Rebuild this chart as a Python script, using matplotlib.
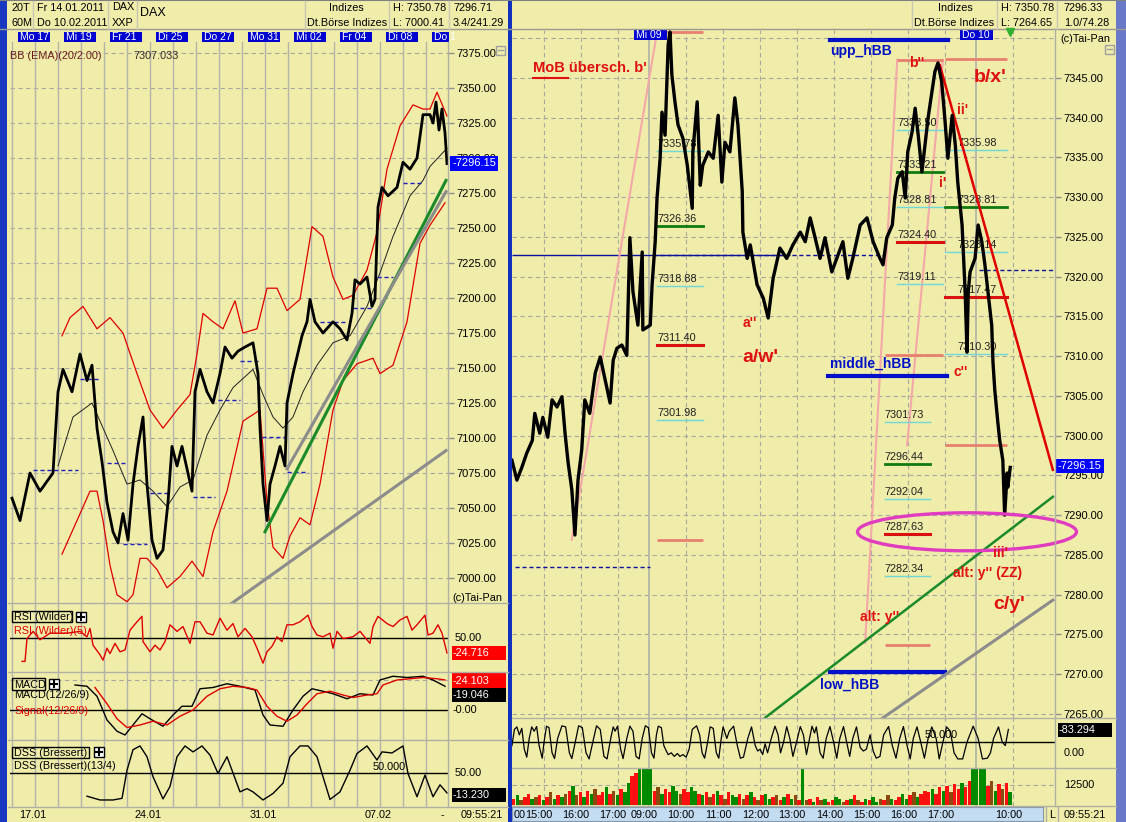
import numpy as np
import matplotlib.pyplot as plt
from matplotlib.patches import Rectangle, Ellipse

plt.rcParams['font.family'] = ['Liberation Sans', 'DejaVu Sans']

# ---------------- left chart: DAX 60 min (time unit: 23 per trading day) ----------------
lt = [12, 20, 30, 40, 53, 58, 63, 72, 80, 87, 92, 97, 102, 107, 113, 118, 123, 128, 133, 138,
      143, 147, 152, 157, 163, 168, 172, 177, 182, 187, 192, 195, 200, 207, 213, 220, 225, 232, 238, 245,
      253, 258, 260, 263, 267, 270, 275, 280, 285, 287, 293, 302, 307, 310, 315, 323, 333, 340, 347, 352,
      355, 360, 367, 372, 375, 378, 382, 388, 397, 403, 410, 417, 423, 430, 433, 436, 439, 442, 445, 447]
lp = [7057, 7041, 7075, 7062, 7075, 7133, 7149, 7133, 7160, 7141, 7152, 7107, 7083, 7054, 7033, 7025, 7046, 7027, 7067, 7094,
      7115, 7067, 7027, 7014, 7020, 7054, 7094, 7080, 7094, 7078, 7062, 7133, 7149, 7133, 7125, 7146, 7165, 7157, 7162, 7165,
      7168, 7146, 7107, 7067, 7041, 7067, 7080, 7094, 7080, 7125, 7146, 7173, 7183, 7199, 7183, 7175, 7183, 7178, 7170, 7189,
      7213, 7210, 7215, 7194, 7199, 7265, 7279, 7273, 7279, 7297, 7292, 7300, 7331, 7331, 7325, 7340, 7320, 7335, 7318, 7296]

bbu_t = [62, 70, 83, 97, 110, 123, 137, 150, 163, 177, 190, 197, 203, 213, 223, 235, 243, 257, 267, 277,
         287, 300, 312, 323, 333, 343, 353, 367, 377, 387, 400, 413, 423, 430, 437, 447]
bbu = [7173, 7186, 7194, 7178, 7186, 7175, 7146, 7120, 7107, 7120, 7131, 7160, 7189, 7183, 7178, 7198, 7175, 7178, 7207, 7207,
       7191, 7199, 7251, 7244, 7215, 7199, 7202, 7220, 7247, 7292, 7323, 7338, 7335, 7335, 7347, 7330]
bbl_t = [62, 77, 90, 97, 103, 110, 117, 127, 133, 140, 147, 157, 167, 180, 192, 203, 213, 227, 243, 260,
         267, 273, 283, 290, 300, 310, 320, 333, 343, 357, 373, 380, 393, 407, 420, 430, 445]
bbl = [7017, 7041, 7062, 7062, 7041, 7009, 6988, 6983, 6988, 7014, 7014, 7006, 6993, 7001, 7012, 7001, 7033, 7062, 7112, 7120,
       7054, 7022, 7014, 7030, 7043, 7038, 7067, 7120, 7141, 7153, 7157, 7146, 7152, 7183, 7239, 7252, 7268]
bbm_t = [58, 73, 92, 100, 113, 127, 140, 153, 167, 180, 193, 207, 220, 233, 253, 263, 273, 283, 293, 303,
         317, 333, 350, 367, 380, 393, 410, 423, 430, 447]
bbm = [7080, 7115, 7125, 7112, 7091, 7067, 7070, 7062, 7051, 7065, 7070, 7102, 7120, 7136, 7149, 7131, 7115, 7107, 7115, 7133,
       7152, 7168, 7173, 7194, 7218, 7244, 7273, 7284, 7294, 7307]

# previous-session marks (start, end, price)
prev_x0 = [33, 80, 107, 123, 150, 193, 218, 240, 262, 287, 320, 353, 377, 403]
prev_x1 = [78, 100, 125, 147, 170, 215, 240, 258, 285, 308, 345, 373, 393, 423]
prev_p = [7077, 7142, 7082, 7024, 7061, 7058, 7127, 7155, 7101, 7076, 7183, 7193, 7215, 7282]

# trend lines (t0, p0, t1, p1)
left_green = [265, 7033, 446, 7284]
left_gray1 = [287, 7078, 446, 7276]
left_gray2 = [230, 6981, 446, 7091]

rsi_t = [22, 25, 27, 33, 40, 50, 67, 80, 87, 90, 93, 100, 103, 107, 110, 115, 120, 125, 130, 137,
         142, 143, 150, 155, 160, 165, 170, 177, 183, 190, 195, 200, 207, 213, 220, 227, 233, 238, 245, 252,
         257, 263, 267, 272, 277, 282, 287, 293, 300, 308, 312, 317, 323, 330, 333, 337, 343, 353, 360, 370,
         373, 378, 387, 393, 400, 407, 412, 417, 425, 428, 433, 438, 442, 447]
rsi_v = [11, 11, 49, 61, 47, 58, 58, 61, 52, 66, 38, 22, 13, 33, 24, 41, 27, 30, 63, 77,
         86, 44, 27, 38, 30, 44, 72, 61, 69, 41, 77, 77, 58, 55, 83, 63, 74, 52, 66, 52,
         33, 8, 27, 36, 52, 44, 72, 72, 77, 88, 69, 55, 52, 58, 33, 61, 49, 52, 61, 41,
         69, 86, 74, 69, 80, 86, 63, 72, 88, 55, 58, 72, 58, 25]

macd_t = [75, 87, 97, 107, 117, 125, 133, 142, 150, 163, 173, 182, 192, 200, 213, 227, 240, 255, 263, 270,
          283, 293, 303, 312, 323, 333, 347, 360, 373, 380, 393, 407, 423, 433, 445]
macd_v = [20, 19, 11, -8, -17, -20, -12, -3, -7, -13, -4, 3, 3, 17, 18, 21, 19, 16, -4, -12,
          -13, 0, 11, 17, 15, 13, 9, 13, 12, 24, 27, 26, 27, 24, 19]
sig_t = [95, 107, 117, 127, 140, 153, 167, 180, 193, 207, 220, 233, 247, 257, 267, 277, 287, 297, 307, 317,
         330, 343, 353, 367, 377, 383, 397, 410, 423, 437, 445]
sig_v = [18, 5, -7, -14, -12, -9, -12, -5, 0, 11, 17, 19, 18, 16, 3, -5, -9, -4, 5, 13,
         15, 12, 10, 12, 13, 20, 24, 25, 26, 25, 24]

dss_t = [87, 100, 113, 122, 127, 133, 140, 147, 153, 163, 170, 177, 185, 193, 202, 210, 218, 227, 233, 240,
         247, 253, 263, 273, 283, 290, 300, 308, 317, 322, 330, 340, 350, 357, 367, 377, 382, 392, 403, 408,
         417, 425, 433, 440, 447]
dss_v = [7, 0, 0, 3, 55, 93, 100, 80, 43, 2, 25, 80, 100, 89, 100, 83, 49, 80, 50, 15,
         21, 15, 0, 12, 31, 80, 100, 100, 80, 49, 1, 15, 55, 86, 100, 74, 89, 87, 100, 49,
         6, 46, 6, 28, 13]

left_days = ['Mo 17', 'Mi 19', 'Fr 21', 'Di 25', 'Do 27', 'Mo 31', 'Mi 02', 'Fr 04', 'Di 08', 'Do 1']
left_dates = ['17.01', '24.01', '31.01', '07.02']

# ---------------- right chart: DAX intraday (minutes of session, 0 = 09.02 09:00) ----------------
rm = [-222, -214, -206, -198, -189, -185, -177, -172, -164, -157,
      -149, -141, -136, -131, -125, -120, -115, -109, -104, -96,
      -87, -79, -71, -63, -58, -52, -44, -36, -31, -26,
      -18, -11, -10, 2, 5, 10, 13, 18, 21, 26,
      31, 34, 37, 42, 47, 55, 62, 70, 71, 78,
      83, 87, 96, 104, 112, 118, 123, 131, 139, 144,
      151, 152, 159, 164, 175, 185, 193, 201, 212, 223,
      233, 245, 253, 261, 269, 277, 285, 296, 304, 314,
      322, 330, 342, 353, 363, 374, 379, 385, 394, 398,
      403, 410, 415, 419, 426, 431, 436, 442, 447, 452,
      458, 463, 468, 474, 479, 484, 491, 496, 500, 507,
      512, 515, 517, 520, 528, 533, 539, 544, 549, 555,
      557, 560, 565, 568, 573, 576, 580, 581, 585]
rp = [7296.9, 7294.4, 7296.0, 7297.8, 7299.4, 7302.8, 7300.3, 7302.3, 7299.8, 7304.5,
      7303.6, 7304.9, 7300.3, 7296.6, 7293.2, 7287.5, 7294.4, 7298.2, 7304.5, 7302.8,
      7307.9, 7309.9, 7307.0, 7304.1, 7309.5, 7311.0, 7311.4, 7310.1, 7324.9, 7318.1,
      7313.9, 7323.1, 7313.3, 7313.9, 7319.0, 7324.4, 7329.9, 7334.9, 7340.7, 7337.8,
      7349.2, 7350.8, 7345.4, 7342.0, 7339.1, 7337.4, 7334.0, 7328.6, 7335.7, 7342.0,
      7331.5, 7334.0, 7335.7, 7334.9, 7340.3, 7331.9, 7336.9, 7335.7, 7342.5, 7339.1,
      7330.7, 7325.6, 7322.3, 7324.0, 7319.0, 7317.3, 7314.8, 7319.8, 7323.6, 7322.3,
      7324.0, 7325.6, 7324.4, 7327.4, 7324.9, 7322.3, 7324.9, 7320.6, 7322.3, 7324.4,
      7319.8, 7322.3, 7326.5, 7327.4, 7324.4, 7322.3, 7321.5, 7324.9, 7326.5, 7329.9,
      7332.4, 7333.2, 7329.9, 7335.7, 7338.2, 7341.2, 7337.8, 7333.2, 7336.6, 7340.0,
      7343.2, 7345.8, 7346.9, 7344.5, 7340.0, 7334.9, 7340.3, 7336.6, 7331.9, 7326.5,
      7318.1, 7310.5, 7318.1, 7320.6, 7322.3, 7326.5, 7324.4, 7321.5, 7318.1, 7313.9,
      7309.3, 7305.7, 7301.6, 7299.4, 7296.9, 7290.0, 7295.3, 7293.5, 7296.0]

# retracement level groups: (m start, m end, levels)
fib_groups = [
    (13, 87, [7335.78, 7326.36, 7318.88, 7311.40, 7301.98]),
    (402, 476, [7338.50, 7333.21, 7328.81, 7324.40, 7319.11]),
    (479, 580, [7335.98, 7328.81, 7323.14, 7317.47, 7310.30]),
    (382, 455, [7301.73, 7296.44, 7292.04, 7287.63, 7282.34]),
]
# salmon marks (m start, m end, price)
mark_m0 = [13, 13, 402, 382, 479, 479, 382]
mark_m1 = [87, 87, 476, 476, 580, 580, 455]
mark_p = [7350.8, 7286.9, 7347.3, 7310.1, 7347.4, 7298.8, 7273.7]
# pink projection lines (m0, p0, m1, p1)
pink_lines = [(-125, 7286.9, 13, 7350.8), (350, 7273.9, 402, 7347.3), (418, 7298.8, 476, 7347.3)]
# half Bollinger band levels
hbb_names = ['upp_hBB', 'middle_hBB', 'low_hBB']
hbb_p = [7349.8, 7307.5, 7270.3]
hbb_m0 = [293, 290, 293]
hbb_m1 = [484, 483, 479]
right_green = [188, 7264.5, 654, 7292.3]
right_gray = [379, 7264.5, 654, 7279.3]
right_red = [471, 7346.6, 654, 7295.7]

wave_text = ["a''", "a/w'", "b''", "b/x'", "ii'", "i'", "c''", "iii'", "alt: y'' (ZZ)", "c/y'", "alt: y''"]
wave_m = [163, 180, 434, 552, 507, 476, 504, 570, 549, 583, 374]
wave_p = [7314.2, 7309.8, 7346.9, 7345.1, 7341.0, 7331.8, 7308.0, 7285.2, 7282.7, 7278.7, 7277.2]
wave_big = [False, True, False, True, False, False, False, False, False, True, False]

osc_m = [-222, -218, -214, -210, -206, -202, -198, -194, -190, -186,
         -182, -178, -173, -170, -166, -162, -157, -153, -148, -141,
         -135, -129, -125, -120, -114, -108, -102, -97, -91, -85,
         -79, -73, -68, -62, -58, -55, -51, -46, -42, -36,
         -31, -26, -21, -16, -11, -6, -1, 4, 8, 12,
         15, 20, 24, 28, 31, 36, 41, 46, 50, 55,
         60, 65, 70, 77, 82, 86, 90, 95, 99, 104,
         109, 113, 117, 120, 126, 130, 137, 143, 148, 153,
         160, 166, 172, 176, 180, 184, 188, 192, 198, 204,
         209, 213, 218, 223, 228, 233, 239, 245, 250, 255,
         260, 264, 268, 271, 277, 282, 287, 293, 299, 304,
         309, 315, 320, 325, 330, 336, 342, 347, 352, 358,
         363, 368, 374, 380, 388, 394, 400, 406, 412, 418,
         423, 428, 434, 440, 446, 452, 458, 465, 470, 476,
         482, 488, 494, 500, 508, 515, 525, 533, 540, 548,
         553, 558, 566, 572, 577, 582]
osc_v = [40, 85, 92, 70, 88, 30, 8, 60, 92, 80,
         93, 40, 5, 50, 94, 90, 20, 4, 60, 95,
         92, 20, 4, 45, 95, 90, 20, 3, 50, 95,
         85, 10, 3, 60, 92, 80, 94, 30, 4, 60,
         94, 80, 10, 3, 60, 95, 90, 20, 5, 70,
         94, 90, 40, 25, 15, 20, 10, 18, 10, 15,
         8, 30, 85, 95, 70, 20, 5, 50, 92, 88,
         20, 5, 60, 92, 60, 80, 94, 40, 5, 8,
         60, 92, 40, 25, 30, 15, 45, 20, 60, 94,
         70, 20, 50, 93, 60, 10, 50, 93, 70, 15,
         60, 94, 75, 92, 20, 5, 60, 93, 50, 5,
         60, 93, 50, 10, 60, 92, 35, 25, 30, 70,
         25, 5, 10, 70, 93, 40, 5, 60, 93, 40,
         3, 60, 92, 50, 5, 60, 92, 60, 3, 50,
         92, 80, 20, 3, 3, 50, 94, 60, 3, 5,
         20, 60, 92, 50, 40, 85]

# volume in thousands, one bar per 6 minutes from m = -222
vol_k = [4, 6, 3, 5, 7, 4, 5, 6, 3, 5, 8, 4, 6, 5, 7, 9, 12,
         6, 8, 5, 9, 7, 10, 6, 8, 11, 7, 9, 6, 10, 8, 14, 18,
         20, 23, 23, 23,
         23,
         9, 11, 7, 10, 8, 12, 9, 7, 10, 8, 11, 9, 7,
         6, 8, 5, 7, 9, 6, 4, 8, 6, 5, 7, 4, 6, 8, 5, 3, 6, 7, 4, 5, 6, 3, 5, 7, 4, 6, 3,
         23,
         3, 4, 2, 5, 3, 4, 2, 3, 5, 4, 2, 3, 4, 6, 3, 2, 4, 3, 5, 2, 4, 3, 6, 4, 3, 5, 7, 4, 6, 8, 5, 7, 9,
         8, 10, 7, 11, 9, 12, 8, 13, 10, 14, 11, 15,
         23, 23, 23, 23,
         12, 15, 9, 13, 10, 14, 8]
vol_dir = ("dunddundudnudundu" "ndudunddudnuduud" "duuu" "u" "dnudduundduud"
           "udndudnduudndudnduudndudund" "u" "ndudnudduundudnduduundnudduudnudd"
           "duddudnddudd" "uuuu" "dnudndu")

hour_m = [-230, -170, -110, -50, 0, 60, 120, 180, 240, 300, 360, 420, 480, 590]
hour_lab = ['14:00', '15:00', '16:00', '17:00', '09:00', '10:00', '11:00', '12:00', '13:00',
            '14:00', '15:00', '16:00', '17:00', '10:00']

# ---------------- figure ----------------
W, H = 1126, 822
BG = '#efeda9'
GRID = '#a9a9a0'
FS = 7.8
fig = plt.figure(figsize=(W / 100, H / 100), dpi=100)
fig.patch.set_facecolor(BG)


def panel(x0, y0, x1, y1):
    ax = fig.add_axes([x0 / W, 1 - y1 / H, (x1 - x0) / W, (y1 - y0) / H])
    ax.set_facecolor(BG)
    for s in ax.spines.values():
        s.set_visible(False)
    ax.tick_params(left=False, bottom=False, labelleft=False, labelbottom=False)
    return ax


def right_ticks(ax, ticks):
    ax.yaxis.tick_right()
    ax.set_yticks(ticks)
    ax.set_yticklabels([f'{t:.2f}' for t in ticks])
    ax.tick_params(axis='y', right=True, labelright=True, length=4, width=1,
                   color='#909090', labelsize=8, pad=2)


# ---- left main ----
axL = panel(10, 42, 448, 603)
axL.set_ylim(6982.1, 7382.9)
for p in range(7000, 7376, 25):
    axL.axhline(p, color=GRID, ls=(0, (4, 3)), lw=0.8, zorder=0)
right_ticks(axL, list(range(7000, 7376, 25)))
axL.plot(bbu_t, bbu, color='#e00000', lw=0.9, zorder=3)
axL.plot(bbl_t, bbl, color='#e00000', lw=0.9, zorder=3)
axL.plot(bbm_t, bbm, color='#202020', lw=0.7, zorder=3)
axL.hlines(prev_p, prev_x0, prev_x1, colors='#2020c0', linestyles=(0, (3, 2)), lw=1, zorder=3)
for ln, c in [(left_green, '#1a8a2a'), (left_gray1, '#8c8c8c'), (left_gray2, '#8c8c8c')]:
    axL.plot([ln[0], ln[2]], [ln[1], ln[3]], color=c, lw=2.2, zorder=4)
axL.plot(lt, lp, color='black', lw=2.0, zorder=5)
axL.annotate('-7296.15', xy=(1.0, 7296.15), xycoords=axL.get_yaxis_transform(),
             xytext=(3, 0), textcoords='offset points', ha='left', va='center',
             color='white', fontsize=8, zorder=10, annotation_clip=False,
             bbox=dict(boxstyle='square,pad=0.2', fc='#0000ff', ec='none'))

# ---- left sub panels ----
axRSI = panel(10, 603, 448, 672)
axRSI.set_ylim(-6.7, 108.3)
axRSI.axhline(50, color='black', lw=1)
axRSI.plot(rsi_t, rsi_v, color='#e00000', lw=1)

axM = panel(10, 672, 448, 740)
axM.set_ylim(-24, 30.4)
axM.axhline(0, color='black', lw=1)
axM.axhline(24, color=GRID, ls=(0, (4, 3)), lw=0.8)
axM.plot(macd_t, macd_v, color='black', lw=1)
axM.plot(sig_t, sig_v, color='#e00000', lw=1)

axD = panel(10, 740, 448, 807)
axD.set_ylim(-13, 111)
axD.axhline(50, color='black', lw=1)
axD.plot(dss_t, dss_v, color='black', lw=1)
axD.text(373, 61, '50.000', fontsize=FS, va='center')

for ax in (axL, axRSI, axM, axD):
    ax.set_xlim(10, 448)
    for k in range(20):
        ax.axvline(12 + 23 * k, color='#b4b4ac', lw=1, zorder=0)

# ---- right main ----
RX = (-221.9, 657.5)
axR = panel(512, 30, 1055, 718)
axR.set_xlim(*RX)
axR.set_ylim(7264.47, 7351.04)
for p in range(7265, 7351, 5):
    axR.axhline(p, color=GRID, ls=(0, (4, 3)), lw=0.8, zorder=0)
right_ticks(axR, list(range(7265, 7346, 5)))

axO = panel(512, 718, 1055, 768)
axO.set_ylim(-22.2, 116.7)
axV = panel(512, 768, 1055, 806)
axV.set_ylim(-0.625, 23.125)
for ax in (axR, axO, axV):
    ax.set_xlim(*RX)
    for m in hour_m:
        if m != 0:
            ax.axvline(m, color=GRID, ls=(0, (4, 3)), lw=0.8, zorder=0)
    for m in (0, 530):
        ax.axvline(m, color='#b0b0a8', lw=1.2, zorder=0)

axR.hlines([7322.7], -222, 228, colors='#1010a0', lw=1, zorder=2)
axR.hlines([7322.7, 7320.8, 7283.5], [6, 534, -217], [386, 657, 2],
           colors='#1010a0', linestyles=(0, (3, 2)), lw=1, zorder=2)
for a, b, c, d in pink_lines:
    axR.plot([a, c], [b, d], color='#f4a8a8', lw=1.5, zorder=2)
axR.hlines(mark_p, mark_m0, mark_m1, colors='#e88070', lw=2, zorder=2)

fib_cols = ['#70d8d8', '#107a10', '#70d8d8', '#d81010', '#70d8d8']
fib_lw = [1, 2, 1, 2.2, 1]
for i, (m0, m1, levels) in enumerate(fib_groups):
    off = 20 if i == 2 else 0
    for lev, c, w in zip(levels, fib_cols, fib_lw):
        axR.plot([m0, m1], [lev, lev], color=c, lw=w, zorder=3)
        axR.text(m0 + off, lev + 0.25, f'{lev:.2f}', fontsize=7.8, color='#202020',
                 ha='left', va='bottom', zorder=3)

for name, p, m0, m1 in zip(hbb_names, hbb_p, hbb_m0, hbb_m1):
    axR.plot([m0, m1], [p, p], color='#0010c8', lw=3, zorder=4)
axR.text(293, 7348.4, 'upp_hBB', color='#0010c8', fontsize=10, fontweight='bold', va='center')
axR.text(293, 7309.1, 'middle_hBB', color='#0010c8', fontsize=10, fontweight='bold', va='center')
axR.text(277, 7268.6, 'low_hBB', color='#0010c8', fontsize=10, fontweight='bold', va='center')

for ln, c, w in [(right_green, '#1a8a2a', 1.8), (right_gray, '#8c8c8c', 2.2), (right_red, '#e00000', 1.8)]:
    axR.plot([ln[0], ln[2]], [ln[1], ln[3]], color=c, lw=w, zorder=4)

axR.plot(rm, rp, color='black', lw=2.4, zorder=5)

axR.add_patch(Ellipse((515, 7287.9), 354.6, 4.78, fill=False, ec='#e03cc0', lw=2.4,
                      zorder=6, clip_on=False))

RED = '#e01010'
axR.text(-188, 7346.3, "MoB übersch. b'", color=RED, fontsize=10.5, fontweight='bold',
         va='center', ha='left', zorder=7)
axR.plot([-188, -131], [7345.0, 7345.0], color=RED, lw=1.5, zorder=7)
for t, m, p, big in zip(wave_text, wave_m, wave_p, wave_big):
    axR.text(m, p, t, color=RED, fontsize=14 if big else 10, fontweight='bold',
             ha='center', va='center', zorder=7)

axR.annotate('-7296.15', xy=(1.0, 7296.15), xycoords=axR.get_yaxis_transform(),
             xytext=(2, 0), textcoords='offset points', ha='left', va='center',
             color='white', fontsize=8, zorder=10, annotation_clip=False,
             bbox=dict(boxstyle='square,pad=0.2', fc='#0000ff', ec='none'))

# oscillator & volume
axO.axhline(50, color='black', lw=1)
axO.plot(osc_m, osc_v, color='black', lw=0.9)
axO.text(447, 69, '50.000', fontsize=FS, va='center')
axV.axhline(12.5, color=GRID, ls=(0, (4, 3)), lw=0.8, zorder=0)
vol_m = np.arange(-222, 583, 6)
n = min(len(vol_m), len(vol_k), len(vol_dir))
dir_col = {'u': '#008a00', 'd': '#ff1010', 'n': '#8a4a10'}
axV.bar(vol_m[:n], vol_k[:n], width=5.6, color=[dir_col[c] for c in vol_dir[:n]],
        align='edge', lw=0, zorder=2)

# time row
axT = panel(512, 807, 1043, 821)
axT.set_facecolor('#c4dcf2')
for s in axT.spines.values():
    s.set_visible(True)
    s.set_color('#8898a8')
axT.set_xlim(RX[0], (1043 - 649) * 1.6194)
axT.set_ylim(0, 1)
axT.text(RX[0] + 2, 0.45, '00', ha='left', va='center', fontsize=FS)
for m, lab in list(zip(hour_m, hour_lab))[1:]:
    axT.text(m - 8, 0.45, lab, ha='center', va='center', fontsize=FS)

# ---------------- overlay: frame, headers, boxes ----------------
ov = fig.add_axes([0, 0, 1, 1], zorder=20)
ov.set_xlim(0, W)
ov.set_ylim(H, 0)
ov.axis('off')


def txt(x, y, s, **kw):
    kw.setdefault('fontsize', FS)
    kw.setdefault('va', 'center')
    ov.text(x, y, s, **kw)


def valbox(x0, y0, x1, y1, s, fc):
    ov.add_patch(Rectangle((x0, y0), x1 - x0, y1 - y0, fc=fc, ec='none'))
    txt(x0 + 1, (y0 + y1) / 2, s, color='white')


def boxed(x0, y0, x1, y1, s, color='black'):
    ov.add_patch(Rectangle((x0, y0), x1 - x0, y1 - y0, fill=False, ec='black', lw=1))
    txt(x0 + 2, (y0 + y1) / 2 + 0.5, s, color=color)


def plusbox(x0, y0):
    ov.add_patch(Rectangle((x0, y0), 10, 10, fc='white', ec='black', lw=1))
    ov.plot([x0 + 2, x0 + 8], [y0 + 5, y0 + 5], color='black', lw=1.5)
    ov.plot([x0 + 5, x0 + 5], [y0 + 2, y0 + 8], color='black', lw=1.5)


# header separators
ov.plot([0, W], [29.5, 29.5], color='#9a9a90', lw=1)
ov.plot([0, W], [0.5, 0.5], color='#808080', lw=1.5)
for x in (33, 108, 137, 305, 389, 449, 912, 997, 1057):
    ov.plot([x, x], [1, 29], color='#c8c8b4', lw=1)

txt(12, 8, '20T')
txt(37, 8, 'Fr 14.01.2011')
txt(112, 7, 'DAX')
txt(140, 13, 'DAX', fontsize=9)
txt(346, 8, 'Indizes', ha='center')
txt(393, 8, 'H: 7350.78')
txt(453, 8, '7296.71')
txt(12, 23, '60M')
txt(37, 23, 'Do 10.02.2011')
txt(112, 23, 'XXP')
txt(347, 23, 'Dt.Börse Indizes', ha='center')
txt(393, 23, 'L: 7000.41')
txt(453, 23, '3.4/241.29')
txt(955, 8, 'Indizes', ha='center')
txt(954, 23, 'Dt.Börse Indizes', ha='center')
txt(1001, 8, 'H: 7350.78')
txt(1001, 23, 'L: 7264.65')
txt(1064, 8, '7296.33')
txt(1064, 23, '1.0/74.28')

# date boxes
for i, lab in enumerate(left_days):
    x0 = 18 + 46 * i
    w = 17 if lab == 'Do 1' else 32
    ov.add_patch(Rectangle((x0, 32), w, 10, fc='#0000d0', ec='none'))
    txt(x0 + 2, 37, lab, color='white', fontsize=7.5)
for x0, lab in [(634, 'Mi 09'), (960, 'Do 10')]:
    ov.add_patch(Rectangle((x0, 30), 33, 10, fc='#0000d0', ec='none'))
    txt(x0 + 2, 35, lab, color='white', fontsize=7.5)
ov.plot([1010], [32], marker='v', color='#30b030', ms=6)

txt(10, 56, 'BB (EMA)(20/2.00)', color='#6a1a1a')
txt(133, 56, '7307.033', color='#3a2a2a')
txt(452, 598, '(c)Tai-Pan')
txt(1060, 39, '(c)Tai-Pan')
for x0, y0 in [(496, 46), (1105, 45)]:
    ov.add_patch(Rectangle((x0, y0), 9, 9, fill=False, ec='#a0a0a0', lw=1))
    ov.plot([x0 + 2, x0 + 7], [y0 + 4.5, y0 + 4.5], color='#a0a0a0', lw=1)

# left sub panel labels
boxed(12, 611, 72, 622, 'RSI (Wilder)')
plusbox(76, 612)
txt(14, 631, 'RSI (Wilder)(5)', color='#e00000')
boxed(12, 678, 45, 690, 'MACD')
plusbox(49, 679)
txt(14, 695, 'MACD(12/26/9)')
txt(14, 711, 'Signal(12/26/9)', color='#e00000')
boxed(12, 747, 89, 758, 'DSS (Bressert)')
plusbox(94, 747)
txt(14, 766, 'DSS (Bressert)(13/4)')
txt(455, 638, '50.00')
valbox(452, 646, 506, 660, '-24.716', '#ff0000')
valbox(452, 673, 506, 688, '-24.103', '#ff0000')
valbox(452, 688, 506, 702, '-19.046', '#000000')
txt(453, 710, '-0.00')
txt(455, 773, '50.00')
valbox(452, 788, 506, 802, '-13.230', '#000000')
valbox(1058, 723, 1112, 737, '-83.294', '#000000')
txt(1064, 753, '0.00')
txt(1064, 785, '12500')

# panel separators
for y in (603, 672, 740, 807):
    ov.plot([8, 508], [y, y], color='#b0b0a4', lw=1)
for y in (718, 768, 806):
    ov.plot([512, 1116], [y, y], color='#b0b0a4', lw=1)
ov.plot([1055, 1055], [29, 806], color='#b0b0a4', lw=1)
ov.plot([448, 448], [42, 807], color='#b0b0a4', lw=1)

# bottom labels
for i, lab in enumerate(left_dates):
    txt(18 + 115 * i + 15, 815, lab, ha='center')
txt(442, 815, '-', ha='center')
txt(461, 815, '09:55:21')
ov.plot([1046, 1046], [807, 822], color='#b0b0a4', lw=1)
ov.plot([1058, 1058], [807, 822], color='#b0b0a4', lw=1)
txt(1052, 815, 'L', ha='center')
txt(1064, 815, '09:55:21')

# blue frame
ov.add_patch(Rectangle((0, 0), 7, H, fc='#1838c0', ec='none'))
ov.add_patch(Rectangle((508, 0), 4, H, fc='#1030c0', ec='none'))
ov.add_patch(Rectangle((1116, 0), 10, H, fc='#6a78c8', ec='none'))

fig.savefig('out.png', dpi=100, facecolor=BG)
